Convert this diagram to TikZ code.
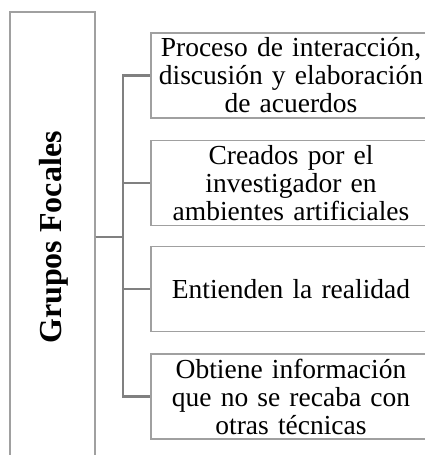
\documentclass[tikz,border=0pt]{standalone}
\usepackage{fontspec}
\setmainfont{Liberation Serif}
\newfontfamily\titlefont{Liberation Serif}
\definecolor{boxgray}{RGB}{160,160,160}
\definecolor{conngray}{RGB}{128,128,128}
\tikzset{
  itembox/.style={draw=boxgray, line width=1.2pt, minimum width=280pt, minimum height=85pt,
    inner sep=0pt, align=center, text width=276pt,
    font=\fontsize{27.5}{28}\selectfont},
  mainbox/.style={draw=boxgray, line width=1.2pt, minimum width=85pt, minimum height=450pt, inner sep=0pt},
  conn/.style={draw=conngray, line width=2.4pt}
}
\begin{document}
\begin{tikzpicture}[x=1pt,y=-1pt]
\useasboundingbox (0,0) rectangle (425,455);
\clip (0,0) rectangle (425,455);
\node[mainbox] (g) at (52.5,237) {};
\node[rotate=90, inner sep=0pt, font=\titlefont\fontsize{32}{34}\selectfont\bfseries] (gt) at (54,237.5) {Grupos Focales};
\node[itembox] (b1) at (291,75.5) {Proceso de interacción,\\discusión y elaboración\\de acuerdos};
\node[itembox] (b2) at (291,183) {Creados por el\\investigador en\\ambientes artificiales};
\node[itembox] (b3) at (291,289) {Entienden la realidad};
\node[itembox] (b4) at (291,396.5) {Obtiene información\\que no se recaba con\\otras técnicas};
\coordinate (j) at (123,237);
\foreach \b in {b1,b2,b3,b4}
  \draw[conn] (g.east) -- (j) |- (\b.west);
\end{tikzpicture}
\end{document}
